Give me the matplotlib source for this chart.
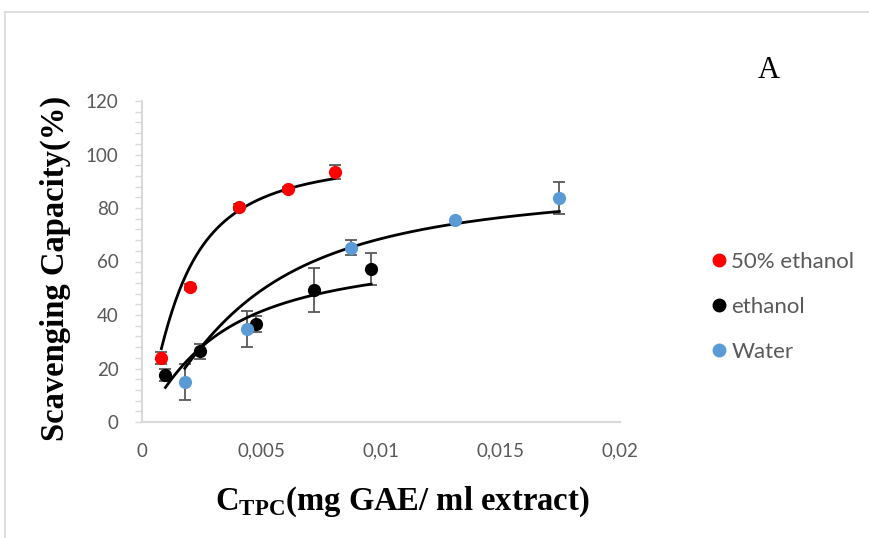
import numpy as np
import matplotlib.pyplot as plt
from matplotlib.lines import Line2D

# values: x = C_TPC (mg GAE/ml extract), y = scavenging capacity (%)
labels = ["50% ethanol", "ethanol", "Water"]
colors = ["#FF0000", "#000000", "#5B9BD5"]

x_eth50 = [0.00081, 0.00201, 0.00406, 0.00610, 0.00806]
y_eth50 = [23.9, 50.4, 80.3, 87.0, 93.5]
err_eth50 = [2.3, 1.2, 1.2, 1.0, 2.6]

x_eth = [0.00098, 0.00242, 0.00479, 0.00721, 0.00959]
y_eth = [17.7, 26.4, 36.7, 49.3, 57.2]
err_eth = [2.3, 2.7, 3.1, 8.1, 5.9]

x_wat = [0.00179, 0.00438, 0.00874, 0.01308, 0.01746]
y_wat = [14.9, 34.8, 65.2, 75.7, 83.6]
err_wat = [6.7, 6.7, 2.9, 0.0, 6.0]

# sigmoidal (Hill) trendlines as drawn: Vmax, K (mg/ml), n
fit_eth50 = [100, 0.0016, 1.43]
fit_eth = [65, 0.00313, 1.2]
fit_wat = [90, 0.004365, 1.4]

xticks = [0, 0.005, 0.01, 0.015, 0.02]
xticklabels = ["0", "0,005", "0,01", "0,015", "0,02"]
yticks = [0, 20, 40, 60, 80, 100, 120]


def hill(x, p):
    v, k, n = p
    return v * x**n / (k**n + x**n)


plt.rcParams["mathtext.fontset"] = "custom"
plt.rcParams["mathtext.rm"] = "Liberation Serif:bold"
plt.rcParams["mathtext.bf"] = "Liberation Serif:bold"

fig = plt.figure(figsize=(8.69, 5.38), dpi=100)
ax = fig.add_axes([142/869, 1 - 422/538, 478/869, 321/538])

grey = "#595959"
series = [(x_eth50, y_eth50, err_eth50, fit_eth50),
          (x_eth, y_eth, err_eth, fit_eth),
          (x_wat, y_wat, err_wat, fit_wat)]
for (xs, ys, es, fit), c, lab in zip(series, colors, labels):
    xs = np.array(xs)
    ax.errorbar(xs, ys, yerr=es, fmt="none", ecolor=grey, elinewidth=1.3,
                capsize=4.5, capthick=1.3, zorder=2)
    xx = np.linspace(xs.min(), xs.max(), 200)
    ax.plot(xx, hill(xx, fit), color="black", lw=2.0, zorder=3)
    ax.plot(xs, ys, "o", color=c, ms=9.5, mec="none", zorder=4, label=lab)

ax.set_xlim(0, 0.02)
ax.set_ylim(0, 120)
ax.set_xticks(xticks)
ax.set_xticklabels(xticklabels)
ax.set_yticks(yticks)
ax.set_yticks(np.arange(0, 121, 4), minor=True)
ax.tick_params(axis="x", length=0, pad=15, labelsize=13.5, labelcolor=grey)
ax.tick_params(axis="y", which="both", length=5, width=1, color="#D9D9D9",
               pad=12, labelsize=13.5, labelcolor=grey)
for t in ax.get_xticklabels() + ax.get_yticklabels():
    t.set_family("Lato")
for s in ["top", "right"]:
    ax.spines[s].set_visible(False)
for s in ["left", "bottom"]:
    ax.spines[s].set_color("#D9D9D9")
    ax.spines[s].set_linewidth(1.5)

fig.text(55/869, 1 - 268/538, "Scavenging Capacity(%)", rotation=90,
         ha="center", va="center", family="Liberation Serif",
         fontweight="bold", fontsize=23.5)
fig.text(402/869, 1 - 510/538, r"C$_{\mathrm{TPC}}$(mg GAE/ ml extract)",
         ha="center", va="baseline", family="Liberation Serif",
         fontweight="bold", fontsize=23.5)
fig.text(769/869, 1 - 70/538, "A", ha="center", va="center",
         family="Liberation Serif", fontsize=22)

handles = [Line2D([], [], ls="none", marker="o", color=c, ms=9) for c in colors]
leg = fig.legend(handles, labels, loc="center left",
                 bbox_to_anchor=(708/869, 1 - 307/538), frameon=False,
                 handletextpad=0.05, labelspacing=1.12, handlelength=1.0,
                 borderaxespad=0, borderpad=0,
                 prop={"family": "Lato", "size": 16})
for t in leg.get_texts():
    t.set_color(grey)

# outer chart border (top and left edges visible in the crop)
fig.add_artist(Line2D([5/869, 5/869], [0, 1 - 12/538], color="#D9D9D9",
                      lw=1.2, transform=fig.transFigure))
fig.add_artist(Line2D([5/869, 1], [1 - 12/538, 1 - 12/538], color="#D9D9D9",
                      lw=1.2, transform=fig.transFigure))

fig.savefig("out.png", dpi=100)
